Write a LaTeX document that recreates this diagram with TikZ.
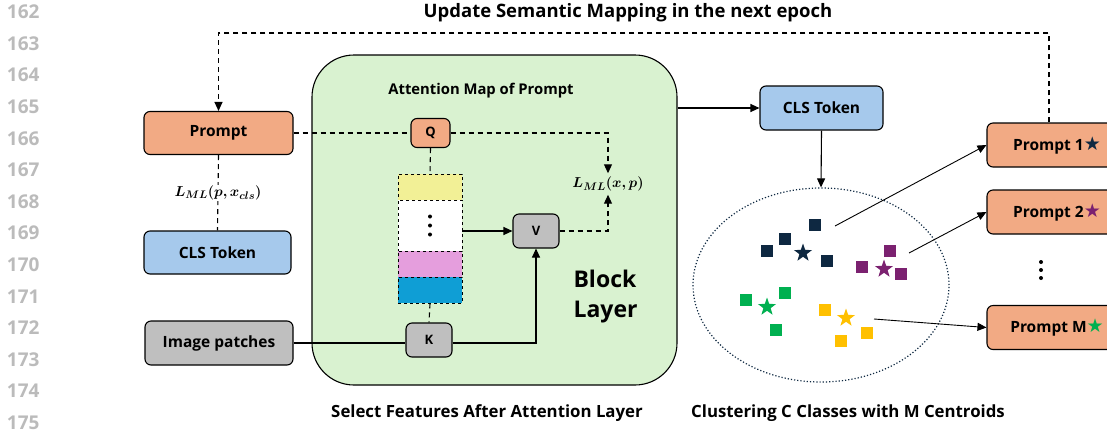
\documentclass[tikz,border=0pt]{standalone}
\usepackage{amsmath,bm}
\usepackage{fontspec}
\setmainfont{Open Sans}
\newfontfamily\symfont{DejaVu Sans}
\usetikzlibrary{arrows.meta,shapes.geometric}

\definecolor{promptorange}{HTML}{F2AA84}
\definecolor{clsblue}{HTML}{A6C9EC}
\definecolor{patchgray}{HTML}{BFBFBF}
\definecolor{blockgreen}{HTML}{D9F2D0}
\definecolor{cellyellow}{HTML}{F2F096}
\definecolor{cellpink}{HTML}{E59EDD}
\definecolor{cellblue}{HTML}{0F9ED5}
\definecolor{clnavy}{HTML}{0E2841}
\definecolor{clpurple}{HTML}{7B2170}
\definecolor{clgreen}{HTML}{00B050}
\definecolor{clyellow}{HTML}{FFC000}
\definecolor{numgray}{HTML}{BBBBBB}

\tikzset{
  box/.style={draw, line width=1.1pt, rounded corners=6pt, inner sep=0pt,
    font=\bfseries\fontsize{15.5}{17}\selectfont},
  promptbox/.style={box, fill=promptorange, minimum width=149pt, minimum height=43pt},
  clsbox/.style={box, fill=clsblue, minimum width=147pt, minimum height=43pt},
  qkv/.style={box, minimum width=46pt, minimum height=34pt, font=\bfseries\fontsize{13}{14}\selectfont},
  cell/.style={draw, dashed, line width=0.8pt, minimum width=64pt, minimum height=26pt, inner sep=0pt},
  pt/.style={rectangle, minimum size=12pt, inner sep=0pt},
  starpt/.style={star, star points=5, star point ratio=2.5, minimum size=19pt, inner sep=0pt},
  caption/.style={font=\bfseries\fontsize{16.8}{18}\selectfont},
  linenum/.style={anchor=east, text=numgray, font=\bfseries\fontsize{19}{20}\selectfont},
  conn/.style={line width=1.1pt, -{Triangle[length=9pt,width=8pt]}},
  dconn/.style={conn, dashed, dash pattern=on 5pt off 4pt},
}

\begin{document}
\begin{tikzpicture}[x=1pt, y=-1pt]
  \clip (0,0) rectangle (1107,429);

  % line numbers
  \foreach \n [count=\i from 0] in {162,...,175}
    \node[linenum] (ln\n) at (43,{12+31.6*\i}) {\n};

  \node[caption, font=\bfseries\fontsize{18.5}{20}\selectfont] (title) at (628,13) {Update Semantic Mapping in the next epoch};

  % block layer
  \node[draw, line width=1.1pt, fill=blockgreen, rounded corners=42pt,
        minimum width=365pt, minimum height=330pt] (blk) at (494.5,220) {};
  \node[font=\bfseries\fontsize{14.8}{16}\selectfont] (attn) at (481,91) {Attention Map of Prompt};
  \node[anchor=west, align=left, font=\bfseries\fontsize{23}{30}\selectfont] (blklab) at (570,297) {Block\\Layer};

  % left inputs
  \node[promptbox] (prompt) at (218.5,133) {Prompt};
  \node[clsbox] (cls1) at (217.5,252.5) {CLS Token};
  \node[box, fill=patchgray, minimum width=148pt, minimum height=44pt] (imgp) at (219,343) {Image patches};

  % attention parts
  \node[qkv, fill=promptorange, minimum width=39pt, minimum height=29pt] (Q) at (430.5,133) {Q};
  \node[qkv, fill=patchgray] (V) at (536,231) {V};
  \node[qkv, fill=patchgray] (K) at (429,340) {K};

  \node[cell, fill=cellyellow] (yel) at (430,187) {};
  \node[cell, fill=white, minimum height=51pt] (dots) at (430,225.5) {};
  \node[cell, fill=cellpink] (pnk) at (430,264) {};
  \node[cell, fill=cellblue] (blu) at (430,290) {};
  \foreach \d in {-9,0,9}
    \fill (dots.center) ++(0,\d) circle (2pt);

  \node[font=\fontsize{15.5}{17}\selectfont] (lmlx) at (608,184) {$\bm{L_{ML}(x,p)}$};

  \draw[dconn, -] (prompt.east) -- (Q.west);
  \draw[dconn] (Q.east) -| (lmlx.north);
  \draw[dconn] (V.east) -| (lmlx.south);
  \draw[dconn, -] (Q.south) -- (yel.north);
  \draw[dconn, -] (blu.south) -- (K.north);
  \draw[conn] (dots.east |- V.west) -- (V.west);
  \draw[conn, -] (imgp.east) -- (imgp.east -| K.west);
  \draw[conn] (K.east |- imgp.east) -| (V.south);
  \draw[dconn, -] (prompt.south) -- (cls1.north)
    node[midway, fill=white, inner sep=1pt, font=\fontsize{15}{17}\selectfont] (lmlp) {$\bm{L_{ML}(p,x_{cls})}$};

  % clustering
  \node[clsbox, minimum width=123pt, minimum height=44pt] (cls2) at (821.5,108) {CLS Token};
  \draw[conn] (blk.east |- cls2.west) -- (cls2.west);
  \node[ellipse, draw=clnavy, line width=1.2pt, dotted, minimum width=256pt, minimum height=194pt] (clu) at (821,285) {};
  \draw[conn] (cls2.south) -- (clu.north);

  \foreach \p [count=\i] in {(815,225),(785,239),(767,251),(827,261)}
    \node[pt, fill=clnavy] (na\i) at \p {};
  \node[starpt, fill=clnavy] (nas) at (803,253) {};
  \foreach \p [count=\i] in {(890,251),(862,267),(901,274)}
    \node[pt, fill=clpurple] (pu\i) at \p {};
  \node[starpt, fill=clpurple] (pus) at (884,269) {};
  \foreach \p [count=\i] in {(746,300),(785,293),(776,330)}
    \node[pt, fill=clgreen] (gr\i) at \p {};
  \node[starpt, fill=clgreen] (grs) at (767,307) {};
  \foreach \p [count=\i] in {(825,310),(867,333),(841,341)}
    \node[pt, fill=clyellow] (ye\i) at \p {};
  \node[starpt, fill=clyellow] (yes) at (846,318) {};

  % centroid prompts
  \node[promptbox, minimum width=140pt, minimum height=44pt] (pm1) at (1057,145)
    {Prompt 1{\symfont\fontsize{19}{19}\selectfont\color{clnavy}★}};
  \node[promptbox, minimum width=140pt, minimum height=44pt] (pm2) at (1057,212)
    {Prompt 2{\symfont\fontsize{19}{19}\selectfont\color{clpurple}★}};
  \node[promptbox, minimum width=140pt, minimum height=44pt] (pmM) at (1057,327.5)
    {Prompt M{\symfont\fontsize{19}{19}\selectfont\color{clgreen}★}};
  \foreach \d in {-8,0,8}
    \fill (1041,{270+\d}) circle (2pt);

  \coordinate (c1) at (835,226);
  \coordinate (c2) at (909,253);
  \coordinate (c3) at (874,319);
  \draw[conn, line width=0.9pt] (c1) -- (pm1.west);
  \draw[conn, line width=0.9pt] (c2) -- (pm2.west);
  \draw[conn, line width=0.9pt] (c3) -- (pmM.west);

  % update loop
  \coordinate (loopR) at (1049,33);
  \draw[dconn] (loopR |- pm1.north) -- (loopR) -| (prompt.north);

  \node[caption] (capA) at (487,413) {Select Features After Attention Layer};
  \node[caption] (capB) at (848,413) {Clustering C Classes with M Centroids};
\end{tikzpicture}
\end{document}
